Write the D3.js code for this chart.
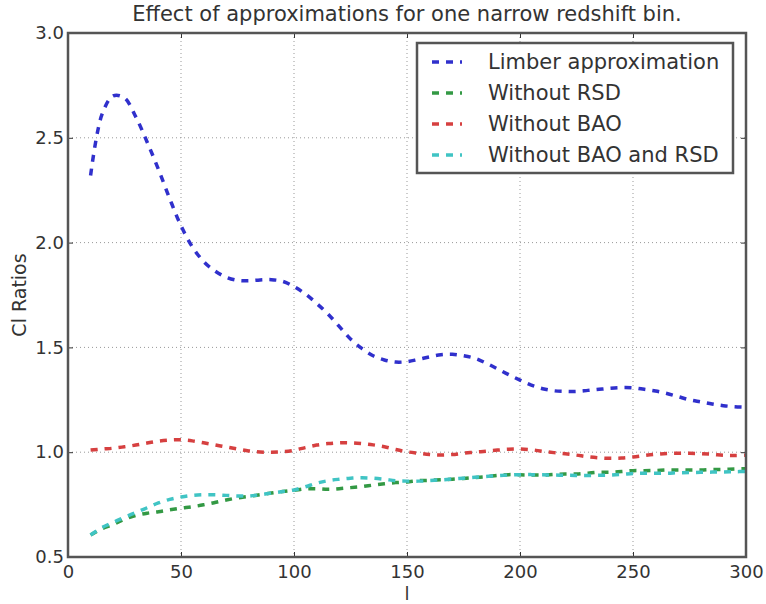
<!DOCTYPE html>
<html>
<head>
<meta charset="utf-8">
<script src="https://cdn.jsdelivr.net/npm/d3@7"></script>
<style>
  body { margin: 0; background: #fff; }
  text { font-family: "DejaVu Sans", sans-serif; fill: #333; }
</style>
</head>
<body>
<div id="chart-area"></div>
<script>
const MARGIN = { LEFT: 68, RIGHT: 20, TOP: 33, BOTTOM: 47 }
const WIDTH = 766 - MARGIN.LEFT - MARGIN.RIGHT
const HEIGHT = 604 - MARGIN.TOP - MARGIN.BOTTOM

// multipole l, every 5 from 10 to 300
const ells = d3.range(10, 301, 5)

const limber = [2.32, 2.61, 2.70, 2.69, 2.60, 2.48, 2.35, 2.21, 2.08, 1.98,
  1.91, 1.865, 1.835, 1.82, 1.818, 1.822, 1.823, 1.815, 1.79, 1.755,
  1.71, 1.66, 1.60, 1.54, 1.495, 1.46, 1.44, 1.43, 1.432, 1.443,
  1.455, 1.465, 1.467, 1.46, 1.448, 1.425, 1.398, 1.37, 1.344, 1.32,
  1.303, 1.293, 1.29, 1.29, 1.295, 1.30, 1.305, 1.308, 1.307, 1.30,
  1.292, 1.28, 1.265, 1.25, 1.24, 1.23, 1.222, 1.217, 1.215]

const noRsd = [0.605, 0.635, 0.655, 0.68, 0.698, 0.709, 0.716, 0.725, 0.733, 0.740,
  0.749, 0.760, 0.772, 0.782, 0.789, 0.797, 0.805, 0.812, 0.818, 0.825,
  0.826, 0.823, 0.826, 0.831, 0.836, 0.843, 0.849, 0.855, 0.858, 0.864,
  0.866, 0.869, 0.871, 0.875, 0.879, 0.883, 0.889, 0.893, 0.892, 0.891,
  0.891, 0.894, 0.896, 0.896, 0.900, 0.904, 0.904, 0.908, 0.912, 0.912,
  0.913, 0.915, 0.915, 0.915, 0.915, 0.917, 0.918, 0.920, 0.921]

const noBao = [1.01, 1.015, 1.019, 1.026, 1.034, 1.044, 1.053, 1.058, 1.059, 1.054,
  1.045, 1.035, 1.025, 1.015, 1.006, 1.001, 1.0, 1.002, 1.009, 1.022,
  1.034, 1.041, 1.045, 1.045, 1.041, 1.035, 1.026, 1.013, 1.002, 0.995,
  0.989, 0.987, 0.989, 0.995, 1.0, 1.005, 1.01, 1.014, 1.015, 1.012,
  1.004, 0.998, 0.993, 0.986, 0.978, 0.973, 0.971, 0.972, 0.977, 0.984,
  0.99, 0.994, 0.995, 0.995, 0.993, 0.99, 0.985, 0.984, 0.986]

const noBaoRsd = [0.605, 0.64, 0.665, 0.69, 0.712, 0.735, 0.758, 0.775, 0.786, 0.794,
  0.797, 0.797, 0.794, 0.791, 0.791, 0.797, 0.805, 0.812, 0.82, 0.835,
  0.852, 0.864, 0.871, 0.876, 0.878, 0.876, 0.871, 0.864, 0.862, 0.862,
  0.865, 0.868, 0.872, 0.876, 0.88, 0.884, 0.888, 0.891, 0.893, 0.893,
  0.892, 0.891, 0.89, 0.889, 0.889, 0.89, 0.891, 0.894, 0.898, 0.90,
  0.90, 0.90, 0.902, 0.903, 0.904, 0.905, 0.906, 0.907, 0.908]

const seriesNames = ["Limber approximation", "Without RSD", "Without BAO", "Without BAO and RSD"]
const seriesColors = ["#3030cc", "#339944", "#d64040", "#40c4c4"]
const seriesValues = [limber, noRsd, noBao, noBaoRsd]

const xTicks = [0, 50, 100, 150, 200, 250, 300]
const yTicks = [0.5, 1.0, 1.5, 2.0, 2.5, 3.0]

const svg = d3.select('#chart-area').append('svg')
  .attr('width', 766)
  .attr('height', 604)

const g = svg.append("g")
  .attr("transform", `translate(${MARGIN.LEFT}, ${MARGIN.TOP})`)

const x = d3.scaleLinear().domain([0, 300]).range([0, WIDTH])
const y = d3.scaleLinear().domain([0.5, 3.0]).range([HEIGHT, 0])

// grid
g.append("g").selectAll("line").data(xTicks.slice(1, -1)).enter().append("line")
  .attr("x1", d => x(d)).attr("x2", d => x(d))
  .attr("y1", 0).attr("y2", HEIGHT)
  .attr("stroke", "#999").attr("stroke-width", 1).attr("stroke-dasharray", "1,3")
g.append("g").selectAll("line").data(yTicks.slice(1, -1)).enter().append("line")
  .attr("y1", d => y(d)).attr("y2", d => y(d))
  .attr("x1", 0).attr("x2", WIDTH)
  .attr("stroke", "#999").attr("stroke-width", 1).attr("stroke-dasharray", "1,3")

// lines
const line = d3.line()
  .x((d, i) => x(ells[i]))
  .y(d => y(d))
  .curve(d3.curveCatmullRom)

seriesValues.forEach((vals, i) => {
  g.append("path")
    .datum(vals)
    .attr("fill", "none")
    .attr("stroke", seriesColors[i])
    .attr("stroke-width", 3.5)
    .attr("stroke-dasharray", "7,7")
    .attr("d", line)
})

// axes, ticks inside like matplotlib classic
const xAxisCall = d3.axisBottom(x).tickValues(xTicks).tickSizeInner(-5).tickSizeOuter(0).tickPadding(8)
const xAx = g.append("g")
  .attr("class", "x-axis")
  .attr("transform", `translate(0, ${HEIGHT})`)
  .call(xAxisCall)
xAx.selectAll("text").attr("font-size", "18px")

const yAxisCall = d3.axisLeft(y).tickValues(yTicks).tickFormat(d3.format(".1f")).tickSizeInner(-5).tickSizeOuter(0).tickPadding(4)
const yAx = g.append("g")
  .attr("class", "y-axis")
  .call(yAxisCall)
yAx.selectAll("text").attr("font-size", "18px")

g.append("g").attr("transform", `translate(0, 0)`)
  .call(d3.axisTop(x).tickValues(xTicks).tickSizeInner(-5).tickSizeOuter(0).tickFormat(""))
g.append("g").attr("transform", `translate(${WIDTH}, 0)`)
  .call(d3.axisRight(y).tickValues(yTicks).tickSizeInner(-5).tickSizeOuter(0).tickFormat(""))

g.selectAll(".domain").remove()
g.selectAll(".tick line").attr("stroke", "#333")
g.selectAll(".tick text").attr("fill", "#444").attr("font-family", "DejaVu Sans, sans-serif")

// frame
g.append("rect")
  .attr("width", WIDTH).attr("height", HEIGHT)
  .attr("fill", "none").attr("stroke", "#555").attr("stroke-width", 2.5)

// title and labels
svg.append("text")
  .attr("x", MARGIN.LEFT + WIDTH / 2)
  .attr("y", 21)
  .attr("font-size", "21px")
  .attr("text-anchor", "middle")
  .text("Effect of approximations for one narrow redshift bin.")

svg.append("text")
  .attr("x", MARGIN.LEFT + WIDTH / 2)
  .attr("y", 600)
  .attr("font-size", "18px")
  .attr("text-anchor", "middle")
  .text("l")

svg.append("text")
  .attr("transform", `translate(26, ${MARGIN.TOP + HEIGHT / 2}) rotate(-90)`)
  .attr("font-size", "19px")
  .attr("text-anchor", "middle")
  .text("Cl Ratios")

// legend
const legend = svg.append("g").attr("transform", "translate(417, 43)")
legend.append("rect")
  .attr("width", 316).attr("height", 130)
  .attr("fill", "#fff").attr("stroke", "#555").attr("stroke-width", 2.5)

seriesNames.forEach((name, i) => {
  const ly = 19 + i * 31
  legend.append("line")
    .attr("x1", 15).attr("x2", 45)
    .attr("y1", ly).attr("y2", ly)
    .attr("stroke", seriesColors[i])
    .attr("stroke-width", 3.5)
    .attr("stroke-dasharray", "7,7")
  legend.append("text")
    .attr("x", 71).attr("y", ly + 7)
    .attr("font-size", "21px")
    .text(name)
})
</script>
</body>
</html>
